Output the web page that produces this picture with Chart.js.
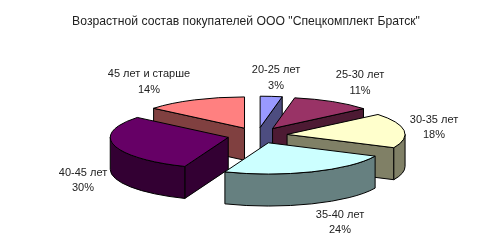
<!DOCTYPE html>
<html><head><meta charset="utf-8">
<style>html,body{margin:0;padding:0;background:#fff}canvas{display:block}</style>
<script src="https://cdn.jsdelivr.net/npm/chart.js@4"></script>
</head><body><canvas id="c" width="492" height="252"></canvas>
<script>
const chartTitle = 'Возрастной состав покупателей ООО "Спецкомплект Братск"';
const categories = ['20-25 лет','25-30 лет','30-35 лет','35-40 лет','40-45 лет','45 лет и старше'];
const shares = [3,11,18,24,30,14];
const topColors = ['#9999FF','#993366','#FFFFCC','#CCFFFF','#660066','#FF8080'];
const wallColors = ['#4D4D80','#4D1A33','#808066','#668080','#330033','#804040'];
const labelCentres = [[276,70,86],[360,75,91],[434,120,135],[340,215,230],[83,173,188],[149,74,90]];

const view = {cx:257.3, cy:135.4, squash:0.265, depth:32, explode:30};

const pie3d = {
  id:'pie3d',
  beforeDatasetsDraw(chart){
    const ctx = chart.ctx, arcs = chart.getDatasetMeta(0).data;
    const order = arcs.map((a,i)=>{
      const m=(a.startAngle+a.endAngle)/2;
      return {a,i,m,dx:Math.cos(m)*view.explode,dy:Math.sin(m)*view.explode};
    }).sort((p,q)=>p.dy-q.dy);
    order.forEach(({a,i,dx,dy})=>{
      const r=a.outerRadius, s=a.startAngle, e=a.endAngle;
      const ax=view.cx+dx, ay=view.cy+dy*view.squash;
      const px=t=>ax+r*Math.cos(t), py=t=>ay+r*view.squash*Math.sin(t);
      ctx.save();
      ctx.lineWidth=1; ctx.strokeStyle='#000'; ctx.lineJoin='round';
      ctx.fillStyle=wallColors[i];
      const quad=t=>{
        ctx.beginPath();ctx.moveTo(ax,ay);ctx.lineTo(px(t),py(t));
        ctx.lineTo(px(t),py(t)+view.depth);ctx.lineTo(ax,ay+view.depth);ctx.closePath();
        ctx.fill();ctx.stroke();
      };
      if(Math.cos(s)<0) quad(s);
      if(Math.cos(e)>0) quad(e);
      const lo=Math.max(s,0), hi=Math.min(e,Math.PI);
      if(hi>lo){
        ctx.beginPath();
        ctx.ellipse(ax,ay,r,r*view.squash,0,lo,hi);
        ctx.lineTo(px(hi),py(hi)+view.depth);
        ctx.ellipse(ax,ay+view.depth,r,r*view.squash,0,hi,lo,true);
        ctx.closePath();ctx.fill();ctx.stroke();
      }
      ctx.save();
      ctx.translate(ax,ay);ctx.scale(1,view.squash);ctx.translate(-a.x,-a.y);
      a.draw(ctx);
      ctx.restore();
      ctx.beginPath();ctx.moveTo(ax,ay);
      ctx.ellipse(ax,ay,r,r*view.squash,0,s,e);
      ctx.closePath();ctx.stroke();
      ctx.restore();
    });
    ctx.save();
    ctx.fillStyle='#222';ctx.font='11px "Liberation Sans"';ctx.textAlign='center';ctx.textBaseline='middle';
    categories.forEach((c,i)=>{
      const [x,y1,y2]=labelCentres[i];
      ctx.fillText(c,x,y1);
      ctx.fillText(shares[i]+'%',x,y2);
    });
    ctx.restore();
    return false;
  }
};

new Chart(document.getElementById('c'),{
  type:'pie',
  data:{labels:categories,datasets:[{data:shares,backgroundColor:topColors,borderWidth:0,radius:118}]},
  options:{
    responsive:false,animation:false,
    layout:{padding:0},
    plugins:{
      legend:{display:false},tooltip:{enabled:false},
      title:{display:true,text:chartTitle,color:'#222',
        font:{family:'"Liberation Sans"',size:12.2,weight:'normal'},padding:{top:14,bottom:0}}
    }
  },
  plugins:[pie3d]
});
</script></body></html>
